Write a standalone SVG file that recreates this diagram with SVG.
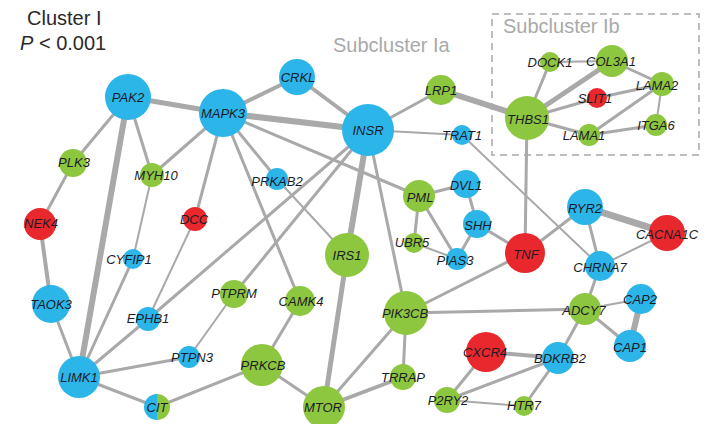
<svg xmlns="http://www.w3.org/2000/svg" width="707" height="424" viewBox="0 0 707 424">
<style>
.e{stroke:#a9a9a9;stroke-linecap:round;fill:none}
.w2{stroke-width:2}.w3{stroke-width:3}.w4{stroke-width:4}.w5{stroke-width:5}.w6{stroke-width:6}.w7{stroke-width:7}
.b{fill:#2bb5e8}.g{fill:#8dc63f}.r{fill:#e8282c}
.l{font-family:"Liberation Sans",Arial,sans-serif;font-style:italic;font-size:13px;text-anchor:middle;fill:#1c1c28}
.t{font-family:"Liberation Sans",Arial,sans-serif;font-size:20px;fill:#2a2a2a}
.s{font-family:"Liberation Sans",Arial,sans-serif;font-size:20px;fill:#a9a9a9}
</style>
<rect width="707" height="424" fill="#fff"/>
<g id="titles">
<text class="t" x="27" y="25">Cluster I</text>
<text class="t" x="20" y="50"><tspan font-style="italic">P</tspan> &lt; 0.001</text>
<text class="s" x="333" y="52">Subcluster Ia</text>
<rect x="492" y="14" width="207" height="141" fill="none" stroke="#bdbdbd" stroke-width="2" stroke-dasharray="7 5"/>
<text class="s" x="503" y="33">Subcluster Ib</text>
</g>
<g id="edges">
<line class="e w5" x1="128" y1="97" x2="223" y2="113"/>
<line class="e w3" x1="128" y1="97" x2="73" y2="163"/>
<line class="e w6" x1="128" y1="97" x2="79" y2="377"/>
<line class="e w3" x1="128" y1="97" x2="152" y2="175"/>
<line class="e w4" x1="223" y1="113" x2="297" y2="77"/>
<line class="e w6" x1="223" y1="113" x2="368" y2="130"/>
<line class="e w3" x1="223" y1="113" x2="152" y2="175"/>
<line class="e w3" x1="223" y1="113" x2="195" y2="219"/>
<line class="e w3" x1="223" y1="113" x2="277" y2="179"/>
<line class="e w3" x1="223" y1="113" x2="300" y2="301"/>
<line class="e w3" x1="223" y1="113" x2="419" y2="196"/>
<line class="e w4" x1="297" y1="77" x2="368" y2="130"/>
<line class="e w3" x1="368" y1="130" x2="441" y2="90"/>
<line class="e w2" x1="368" y1="130" x2="462" y2="135"/>
<line class="e w6" x1="368" y1="130" x2="347" y2="255"/>
<line class="e w3" x1="368" y1="130" x2="406" y2="313"/>
<line class="e w3" x1="368" y1="130" x2="148" y2="319"/>
<line class="e w3" x1="368" y1="130" x2="234" y2="294"/>
<line class="e w6" x1="441" y1="90" x2="527" y2="118"/>
<line class="e w2" x1="462" y1="135" x2="600" y2="266"/>
<line class="e w3" x1="527" y1="118" x2="550" y2="62"/>
<line class="e w5" x1="527" y1="118" x2="612" y2="61"/>
<line class="e w3" x1="527" y1="118" x2="597" y2="98"/>
<line class="e w3" x1="527" y1="118" x2="589" y2="135"/>
<line class="e w3" x1="527" y1="118" x2="525" y2="253"/>
<line class="e w2" x1="550" y1="62" x2="612" y2="61"/>
<line class="e w3" x1="612" y1="61" x2="662" y2="84"/>
<line class="e w3" x1="597" y1="98" x2="662" y2="84"/>
<line class="e w3" x1="589" y1="135" x2="662" y2="84"/>
<line class="e w3" x1="589" y1="135" x2="656" y2="125"/>
<line class="e w2" x1="662" y1="84" x2="656" y2="125"/>
<line class="e w3" x1="73" y1="163" x2="40" y2="224"/>
<line class="e w4" x1="40" y1="224" x2="51" y2="304"/>
<line class="e w3" x1="51" y1="304" x2="79" y2="377"/>
<line class="e w2" x1="152" y1="175" x2="133" y2="259"/>
<line class="e w3" x1="133" y1="259" x2="79" y2="377"/>
<line class="e w2" x1="195" y1="219" x2="148" y2="319"/>
<line class="e w3" x1="148" y1="319" x2="79" y2="377"/>
<line class="e w3" x1="79" y1="377" x2="189" y2="357"/>
<line class="e w3" x1="79" y1="377" x2="157" y2="407"/>
<line class="e w2" x1="189" y1="357" x2="234" y2="294"/>
<line class="e w3" x1="157" y1="407" x2="262" y2="365"/>
<line class="e w3" x1="300" y1="301" x2="262" y2="365"/>
<line class="e w3" x1="262" y1="365" x2="324" y2="407"/>
<line class="e w2" x1="277" y1="179" x2="347" y2="255"/>
<line class="e w5" x1="347" y1="255" x2="324" y2="407"/>
<line class="e w3" x1="324" y1="407" x2="406" y2="313"/>
<line class="e w4" x1="324" y1="407" x2="403" y2="377"/>
<line class="e w3" x1="406" y1="313" x2="403" y2="377"/>
<line class="e w3" x1="406" y1="313" x2="525" y2="253"/>
<line class="e w3" x1="406" y1="313" x2="585" y2="309"/>
<line class="e w3" x1="419" y1="196" x2="466" y2="184"/>
<line class="e w3" x1="419" y1="196" x2="414" y2="243"/>
<line class="e w3" x1="419" y1="196" x2="457" y2="259"/>
<line class="e w2" x1="414" y1="243" x2="457" y2="259"/>
<line class="e w3" x1="466" y1="184" x2="477" y2="224"/>
<line class="e w3" x1="477" y1="224" x2="457" y2="259"/>
<line class="e w3" x1="477" y1="224" x2="525" y2="253"/>
<line class="e w3" x1="525" y1="253" x2="585" y2="207"/>
<line class="e w7" x1="585" y1="207" x2="667" y2="233"/>
<line class="e w3" x1="585" y1="207" x2="600" y2="266"/>
<line class="e w2" x1="600" y1="266" x2="667" y2="233"/>
<line class="e w3" x1="600" y1="266" x2="585" y2="309"/>
<line class="e w2" x1="585" y1="309" x2="641" y2="299"/>
<line class="e w3" x1="585" y1="309" x2="630" y2="346"/>
<line class="e w6" x1="641" y1="299" x2="630" y2="346"/>
<line class="e w3" x1="585" y1="309" x2="558" y2="358"/>
<line class="e w4" x1="486" y1="352" x2="558" y2="358"/>
<line class="e w3" x1="486" y1="352" x2="447" y2="400"/>
<line class="e w3" x1="447" y1="400" x2="558" y2="358"/>
<line class="e w2" x1="447" y1="400" x2="524" y2="406"/>
<line class="e w3" x1="558" y1="358" x2="524" y2="406"/>
</g>
<g id="node-PAK2"><circle class="b" cx="128" cy="97" r="23"/><text class="l" x="128" y="102">PAK2</text></g>
<g id="node-MAPK3"><circle class="b" cx="223" cy="113" r="24"/><text class="l" x="223" y="118">MAPK3</text></g>
<g id="node-CRKL"><circle class="b" cx="297" cy="77" r="18"/><text class="l" x="298" y="82">CRKL</text></g>
<g id="node-INSR"><circle class="b" cx="368" cy="130" r="26"/><text class="l" x="368" y="135">INSR</text></g>
<g id="node-LRP1"><circle class="g" cx="441" cy="90" r="15"/><text class="l" x="441" y="95">LRP1</text></g>
<g id="node-TRAT1"><circle class="b" cx="462" cy="135" r="10"/><text class="l" x="462" y="140">TRAT1</text></g>
<g id="node-PRKAB2"><circle class="b" cx="277" cy="179" r="11"/><text class="l" x="277" y="186">PRKAB2</text></g>
<g id="node-PML"><circle class="g" cx="419" cy="196" r="16"/><text class="l" x="420" y="202">PML</text></g>
<g id="node-DVL1"><circle class="b" cx="466" cy="184" r="14"/><text class="l" x="466" y="190">DVL1</text></g>
<g id="node-SHH"><circle class="b" cx="477" cy="224" r="14"/><text class="l" x="478" y="230">SHH</text></g>
<g id="node-UBR5"><circle class="g" cx="414" cy="243" r="10"/><text class="l" x="412" y="247">UBR5</text></g>
<g id="node-PIAS3"><circle class="b" cx="457" cy="259" r="11"/><text class="l" x="455" y="265">PIAS3</text></g>
<g id="node-IRS1"><circle class="g" cx="347" cy="255" r="22"/><text class="l" x="347" y="260">IRS1</text></g>
<g id="node-PLK3"><circle class="g" cx="73" cy="163" r="14"/><text class="l" x="74" y="167">PLK3</text></g>
<g id="node-MYH10"><circle class="g" cx="152" cy="175" r="12"/><text class="l" x="156" y="180">MYH10</text></g>
<g id="node-NEK4"><circle class="r" cx="40" cy="224" r="16"/><text class="l" x="41" y="228">NEK4</text></g>
<g id="node-DCC"><circle class="r" cx="195" cy="219" r="12"/><text class="l" x="194" y="224">DCC</text></g>
<g id="node-CYFIP1"><circle class="b" cx="133" cy="259" r="10"/><text class="l" x="129" y="264">CYFIP1</text></g>
<g id="node-TAOK3"><circle class="b" cx="51" cy="304" r="19"/><text class="l" x="51" y="309">TAOK3</text></g>
<g id="node-EPHB1"><circle class="b" cx="148" cy="319" r="12"/><text class="l" x="148" y="323">EPHB1</text></g>
<g id="node-LIMK1"><circle class="b" cx="79" cy="377" r="21"/><text class="l" x="79" y="382">LIMK1</text></g>
<g id="node-PTPN3"><circle class="b" cx="189" cy="357" r="11"/><text class="l" x="192" y="362">PTPN3</text></g>
<g id="node-CIT"><path class="b" d="M157,394 A13,13 0 0,0 157,420 Z"/><path class="g" d="M157,394 A13,13 0 0,1 157,420 Z"/><text class="l" x="157" y="412">CIT</text></g>
<g id="node-PTPRM"><circle class="g" cx="234" cy="294" r="14"/><text class="l" x="234" y="298">PTPRM</text></g>
<g id="node-CAMK4"><circle class="g" cx="300" cy="301" r="15"/><text class="l" x="301" y="306">CAMK4</text></g>
<g id="node-PRKCB"><circle class="g" cx="262" cy="365" r="21"/><text class="l" x="263" y="370">PRKCB</text></g>
<g id="node-MTOR"><circle class="g" cx="324" cy="407" r="21"/><text class="l" x="323" y="412">MTOR</text></g>
<g id="node-PIK3CB"><circle class="g" cx="406" cy="313" r="22"/><text class="l" x="405" y="318">PIK3CB</text></g>
<g id="node-TRRAP"><circle class="g" cx="403" cy="377" r="13"/><text class="l" x="403" y="382">TRRAP</text></g>
<g id="node-CXCR4"><circle class="r" cx="486" cy="352" r="20"/><text class="l" x="485" y="357">CXCR4</text></g>
<g id="node-P2RY2"><circle class="g" cx="447" cy="400" r="13"/><text class="l" x="448" y="405">P2RY2</text></g>
<g id="node-HTR7"><circle class="g" cx="524" cy="406" r="10"/><text class="l" x="524" y="410">HTR7</text></g>
<g id="node-BDKRB2"><circle class="b" cx="558" cy="358" r="16"/><text class="l" x="560" y="363">BDKRB2</text></g>
<g id="node-ADCY7"><circle class="g" cx="585" cy="309" r="16"/><text class="l" x="584" y="315">ADCY7</text></g>
<g id="node-CAP2"><circle class="b" cx="641" cy="299" r="15"/><text class="l" x="640" y="304">CAP2</text></g>
<g id="node-CAP1"><circle class="b" cx="630" cy="346" r="16"/><text class="l" x="630" y="352">CAP1</text></g>
<g id="node-CHRNA7"><circle class="b" cx="600" cy="266" r="15"/><text class="l" x="600" y="272">CHRNA7</text></g>
<g id="node-RYR2"><circle class="b" cx="585" cy="207" r="18"/><text class="l" x="585" y="213">RYR2</text></g>
<g id="node-CACNA1C"><circle class="r" cx="667" cy="233" r="18"/><text class="l" x="667" y="239">CACNA1C</text></g>
<g id="node-TNF"><circle class="r" cx="525" cy="253" r="20"/><text class="l" x="526" y="259">TNF</text></g>
<g id="node-THBS1"><circle class="g" cx="527" cy="118" r="22"/><text class="l" x="528" y="124">THBS1</text></g>
<g id="node-DOCK1"><circle class="g" cx="550" cy="62" r="10"/><text class="l" x="550" y="67">DOCK1</text></g>
<g id="node-COL3A1"><circle class="g" cx="612" cy="61" r="16"/><text class="l" x="611" y="66">COL3A1</text></g>
<g id="node-LAMA2"><circle class="g" cx="662" cy="84" r="12"/><text class="l" x="657" y="90">LAMA2</text></g>
<g id="node-SLIT1"><circle class="r" cx="597" cy="98" r="10"/><text class="l" x="595" y="103">SLIT1</text></g>
<g id="node-LAMA1"><circle class="g" cx="589" cy="135" r="11"/><text class="l" x="584" y="140">LAMA1</text></g>
<g id="node-ITGA6"><circle class="g" cx="656" cy="125" r="11"/><text class="l" x="656" y="130">ITGA6</text></g>
</svg>
